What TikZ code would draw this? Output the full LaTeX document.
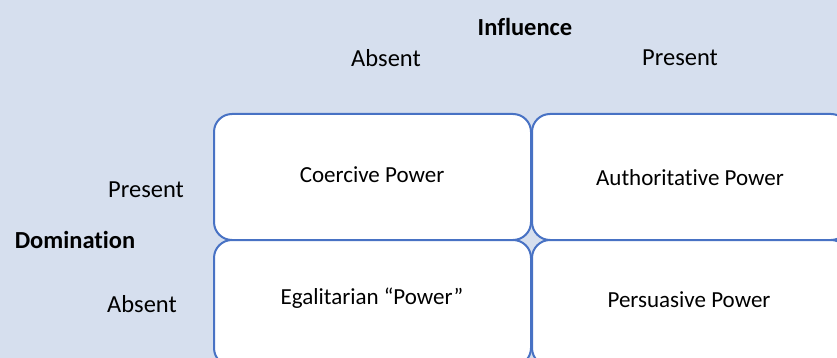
\documentclass[tikz,border=0pt]{standalone}
\usepackage{fontspec}
\setmainfont[Ligatures={NoCommon}]{Carlito}
\definecolor{bgblue}{RGB}{214,223,238}
\definecolor{edgeblue}{RGB}{72,114,196}
\tikzset{
  cell/.style={draw=edgeblue, line width=2pt, fill=white, rounded corners=18pt, minimum width=317pt, minimum height=126pt, inner sep=0pt},
  lbl/.style={font=\fontsize{24.5}{28}\selectfont, inner sep=0pt},
  head/.style={font=\fontsize{24.5}{28}\selectfont\bfseries, inner sep=0pt},
  celltext/.style={font=\fontsize{23}{26}\selectfont, inner sep=0pt}
}
\begin{document}
\begin{tikzpicture}[x=1pt, y=-1pt]
\useasboundingbox (0,0) rectangle (837,358);
\fill[bgblue] (0,0) rectangle (837,358);
\clip (0,0) rectangle (837,358);
\node[cell] (tl) at (372.5,177) {};
\node[cell] (tr) at (690.5,177) {};
\node[cell] (bl) at (372.5,303) {};
\node[cell] (br) at (690.5,303) {};
\node[celltext] (t1) at (372,175) {Coercive Power};
\node[celltext] (t2) at (690,178) {Authoritative Power};
\node[celltext] (t3) at (372,298) {Egalitarian “Power”};
\node[celltext] (t4) at (689,300) {Persuasive Power};
\node[head] (infl) at (525,27) {Influence};
\node[lbl] (iabs) at (386,58) {Absent};
\node[lbl] (ipre) at (680,58) {Present};
\node[head] (dom) at (75,240) {Domination};
\node[lbl] (dpre) at (146,190) {Present};
\node[lbl] (dabs) at (142,304) {Absent};
\end{tikzpicture}
\end{document}
